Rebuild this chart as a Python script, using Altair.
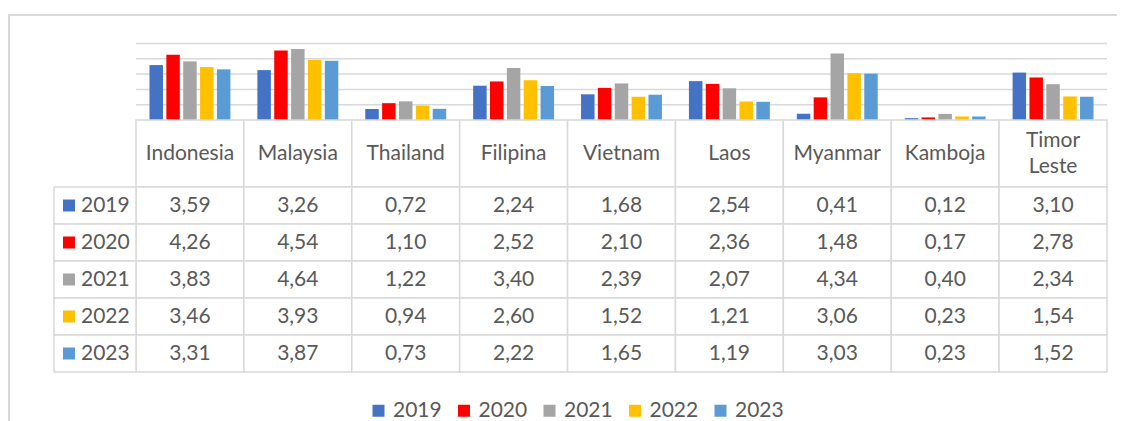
import altair as alt
import pandas as pd

countries = ["Indonesia", "Malaysia", "Thailand", "Filipina", "Vietnam",
             "Laos", "Myanmar", "Kamboja", "Timor Leste"]
years = ["2019", "2020", "2021", "2022", "2023"]
v2019 = [3.59, 3.26, 0.72, 2.24, 1.68, 2.54, 0.41, 0.12, 3.10]
v2020 = [4.26, 4.54, 1.10, 2.52, 2.10, 2.36, 1.48, 0.17, 2.78]
v2021 = [3.83, 4.64, 1.22, 3.40, 2.39, 2.07, 4.34, 0.40, 2.34]
v2022 = [3.46, 3.93, 0.94, 2.60, 1.52, 1.21, 3.06, 0.23, 1.54]
v2023 = [3.31, 3.87, 0.73, 2.22, 1.65, 1.19, 3.03, 0.23, 1.52]
colors = ["#4472C4", "#FF0000", "#A5A5A5", "#FFC000", "#5B9BD5"]
grid_values = [1, 2, 3, 4, 5]

series = dict(zip(years, [v2019, v2020, v2021, v2022, v2023]))
rows = []
for y in years:
    for c, v in zip(countries, series[y]):
        rows.append({"country": c, "year": y, "value": v,
                     "label": f"{v:.2f}".replace(".", ",")})
df = pd.DataFrame(rows)
hdf = pd.DataFrame({"country": countries,
                    "label": [c.replace(" ", "\n") for c in countries],
                    "multi": [(" " in c) for c in countries]})
ydf = pd.DataFrame({"year": years})
gdf = pd.DataFrame({"g": grid_values})
one = pd.DataFrame({"k": [0]})

LINE = "#d9d9d9"
TXT = "#595959"
FONT = "Lato"
FS = 21

xs = alt.Scale(domain=countries, range=[128, 1099], paddingInner=0, paddingOuter=0)
ybar = alt.Scale(domain=[0, 5], range=[112, 35.5], nice=False)
yrow = alt.Scale(domain=years, range=[179, 364], paddingInner=0, paddingOuter=0)
cs = alt.Scale(domain=years, range=colors)

X = alt.X("country:N", scale=xs, axis=None)
YR = alt.Y("year:N", scale=yrow, axis=None)

border = alt.Chart(one).mark_rect(fillOpacity=0, stroke=LINE, strokeWidth=2).encode(
    x=alt.value(1), x2=alt.value(1400), y=alt.value(7), y2=alt.value(700))

grid = alt.Chart(gdf).mark_rule(color=LINE, strokeWidth=1.5).encode(
    y=alt.Y("g:Q", scale=ybar, axis=None), x=alt.value(128), x2=alt.value(1099))

bars = alt.Chart(df).mark_bar().encode(
    x=X,
    xOffset=alt.XOffset("year:N", scale=alt.Scale(paddingInner=0.2, paddingOuter=0.8)),
    y=alt.Y("value:Q", scale=ybar, axis=None),
    color=alt.Color("year:N", scale=cs, legend=alt.Legend(
        orient="none", legendX=360, legendY=392, direction="horizontal", title=None,
        symbolType="square", symbolSize=144, symbolStrokeWidth=0,
        labelFont=FONT, labelFontSize=FS, labelColor=TXT,
        columnPadding=11.5, labelOffset=4)))

header_rect = alt.Chart(hdf).mark_rect(fill="white", stroke=LINE, strokeWidth=1.5).encode(
    x=X, y=alt.value(112), y2=alt.value(179))
header_text1 = alt.Chart(hdf).transform_filter(~alt.datum.multi).mark_text(
    font=FONT, fontSize=FS, color=TXT).encode(
    x=X, y=alt.value(145.5), text="label:N")
header_text2 = alt.Chart(hdf).transform_filter(alt.datum.multi).mark_text(
    font=FONT, fontSize=FS, color=TXT, lineBreak="\n", lineHeight=26).encode(
    x=X, y=alt.value(133), text="label:N")

cell_rect = alt.Chart(df).mark_rect(fill="white", stroke=LINE, strokeWidth=1.5).encode(
    x=X, y=YR)
cell_text = alt.Chart(df).mark_text(font=FONT, fontSize=FS, color=TXT).encode(
    x=X, y=YR, text="label:N")

lab_rect = alt.Chart(ydf).mark_rect(fill="white", stroke=LINE, strokeWidth=1.5).encode(
    x=alt.value(46), x2=alt.value(128), y=YR)
lab_sq = alt.Chart(ydf).mark_square(size=144, opacity=1).encode(
    x=alt.value(61), y=YR, color=alt.Color("year:N", scale=cs, legend=None))
lab_text = alt.Chart(ydf).mark_text(font=FONT, fontSize=FS, color=TXT, align="left").encode(
    x=alt.value(73), y=YR, text="year:N")

chart = alt.layer(border, grid, bars, header_rect, header_text1, header_text2,
                  cell_rect, cell_text, lab_rect, lab_sq, lab_text
                  ).resolve_scale(y="independent").properties(
    width=1109, height=413, padding=0,
    autosize=alt.AutoSizeParams(type="none")
).configure_view(strokeWidth=0)

chart.save("out.html", embed_options={"renderer": "svg", "actions": False})
